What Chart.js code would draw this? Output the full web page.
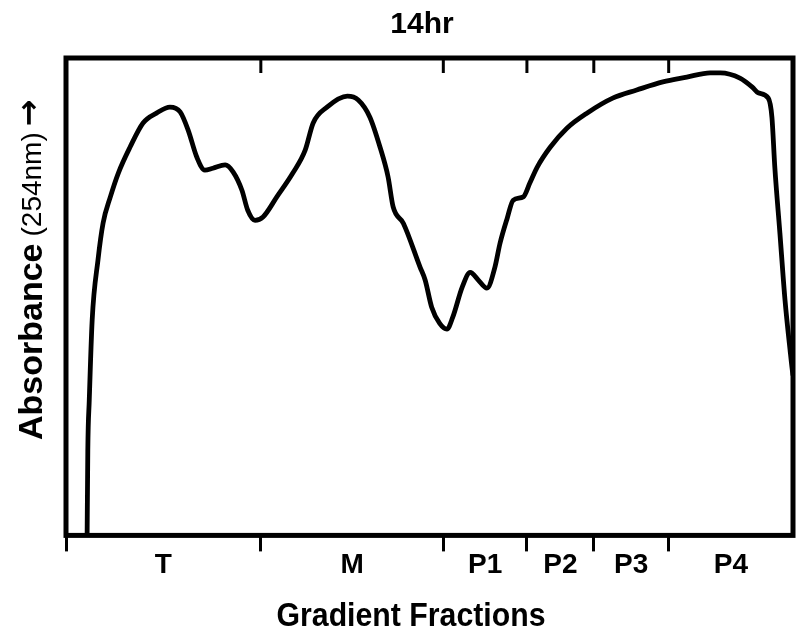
<!DOCTYPE html>
<html>
<head>
<meta charset="utf-8">
<script src="https://cdn.jsdelivr.net/npm/chart.js@4.4.0/dist/chart.umd.min.js"></script>
<style>
body{margin:0;background:#fff}
.wrap{position:relative;width:796px;height:640px}
</style>
</head>
<body>
<div class="wrap"><canvas id="myChart"></canvas></div>
<script>
// position along the gradient (0 = top, 100 = bottom) and A254 trace
const fractionX = [2.9, 3.0, 3.2, 3.6, 4.4, 5.1, 6.1, 7.2, 8.8, 10.6, 12.5, 14.3, 15.7, 16.8, 18.0, 19.1,
  20.2, 21.9, 23.0, 24.2, 25.0, 26.0, 27.1, 29.0, 31.2, 32.9, 34.0, 35.9, 38.7, 40.2, 41.8, 43.2,
  44.3, 45.0, 46.4, 48.7, 49.4, 50.3, 51.4, 52.4, 53.2, 54.5, 55.6, 56.7, 57.9, 59.0, 59.7, 60.7,
  61.5, 62.9, 63.8, 64.8, 66.6, 68.9, 71.7, 75.2, 78.5, 82.1, 85.4, 88.6, 90.0, 92.7, 94.4, 95.2,
  96.6, 97.1, 97.5, 98.2, 98.9, 99.6, 100.0, 100.6]
const absorbance = [-1, 17.8, 28.3, 45.1, 57.7, 65.4, 70.9, 75.9, 81.3, 86.4, 88.5, 89.7, 88.7, 84.9, 79.2, 76.5,
  76.9, 77.6, 76.1, 72.3, 68.1, 66.0, 66.7, 70.9, 75.9, 80.7, 86.4, 89.7, 92.0, 91.2, 87.6, 81.3,
  75.1, 68.8, 65.4, 56.2, 53.5, 47.8, 44.4, 43.2, 45.7, 52.0, 55.1, 53.5, 51.8, 56.2, 61.2, 66.5,
  70.2, 70.9, 73.8, 77.1, 81.3, 85.3, 88.5, 91.6, 93.3, 95.0, 96.0, 96.9, 96.9, 95.8, 93.9, 92.7,
  91.6, 87.6, 77.1, 63.3, 49.3, 38.8, 33.5, 28.3]

// fraction boundaries and names
const fractionBounds = [0, 26.8, 51.9, 63.4, 72.6, 82.9, 100]
const fractionLabels = ['T', 'M', 'P1', 'P2', 'P3', 'P4']

const midpoints = fractionLabels.map((l, i) => (fractionBounds[i] + fractionBounds[i + 1]) / 2)
const tickValues = fractionBounds.concat(midpoints).sort((a, b) => a - b)
const FONT = '"Liberation Sans", Arial, sans-serif'

////// frame, inner top ticks and titles
const frame = {
  id: 'frame',
  afterDraw(chart) {
    const {ctx, chartArea: a, scales: {x}} = chart
    ctx.save()
    ctx.strokeStyle = '#000'
    ctx.lineWidth = 5
    ctx.strokeRect(a.left, a.top, a.right - a.left, a.bottom - a.top)
    ctx.lineWidth = 3
    fractionBounds.slice(1, -1).forEach(v => {
      const px = x.getPixelForValue(v)
      ctx.beginPath()
      ctx.moveTo(px, a.top)
      ctx.lineTo(px, a.top + 15)
      ctx.stroke()
    })

    ctx.fillStyle = '#000'
    ctx.textAlign = 'center'
    ctx.textBaseline = 'alphabetic'
    ctx.font = 'bold 30px ' + FONT
    ctx.fillText('14hr', 422, 33)

    ctx.save()
    ctx.translate(411, 626)
    ctx.scale(0.89, 1)
    ctx.font = 'bold 34px ' + FONT
    ctx.fillText('Gradient Fractions', 0, 0)
    ctx.restore()

    // y title, rotated, reads bottom to top
    ctx.save()
    ctx.translate(42, 440)
    ctx.rotate(-Math.PI / 2)
    ctx.textAlign = 'left'
    ctx.font = 'bold 34px ' + FONT
    ctx.fillText('Absorbance', 0, 0)
    let w = ctx.measureText('Absorbance').width + 7
    ctx.font = '28px ' + FONT
    ctx.fillText('(254nm)', w, -1)
    w += ctx.measureText('(254nm)').width + 6
    ctx.font = 'bold 32px "DejaVu Sans"'
    ctx.fillText('→', w, -3)
    ctx.restore()

    ctx.restore()
  }
}

const ctx = document.getElementById('myChart')
const myChart = new Chart(ctx, {
  type: 'line',
  data: {
    datasets: [{
      data: fractionX.map((x, i) => ({x: x, y: absorbance[i]})),
      borderColor: '#000',
      borderWidth: 4.8,
      pointRadius: 0,
      cubicInterpolationMode: 'monotone',
      clip: 0
    }]
  },
  options: {
    responsive: true,
    maintainAspectRatio: false,
    animation: false,
    layout: {padding: {left: 66, top: 58, right: 3, bottom: 61}},
    plugins: {legend: {display: false}, tooltip: {enabled: false}},
    scales: {
      x: {
        type: 'linear',
        min: 0,
        max: 100,
        afterBuildTicks: s => { s.ticks = tickValues.map(v => ({value: v})) },
        border: {display: false},
        grid: {
          drawOnChartArea: false,
          tickLength: 16,
          tickWidth: 3,
          tickColor: c => (c.tick && c.tick.value < 100 && fractionBounds.includes(c.tick.value)) ? '#000' : 'rgba(0,0,0,0)'
        },
        ticks: {
          autoSkip: false,
          maxRotation: 0,
          padding: -3,
          color: '#000',
          font: {family: FONT, size: 28, weight: 'bold'},
          callback: v => {
            const i = midpoints.indexOf(v)
            return i >= 0 ? fractionLabels[i] : ''
          }
        }
      },
      y: {display: false, min: 0, max: 100}
    }
  },
  plugins: [frame]
})
</script>
</body>
</html>
